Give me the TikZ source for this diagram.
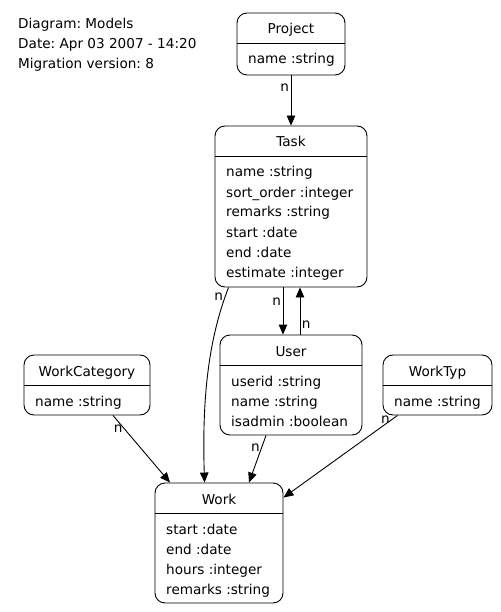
\documentclass[tikz,border=0pt]{standalone}
\usepackage{fontspec}
\setmainfont{DejaVu Sans}
\usepackage{tikz}
\usetikzlibrary{arrows.meta, fit}
\frenchspacing

\newcommand{\dfont}{\fontsize{13.6}{16}\selectfont}
\tikzset{
  classbox/.style={draw, rounded corners=10pt, inner sep=0pt, line width=0.9pt},
  txt/.style={inner sep=0pt},
  rel/.style={line width=0.9pt, -{Triangle[length=10pt, width=8.5pt]}},
  card/.style={inner sep=1.5pt}
}

% name, left, top, right, bottom, title, attributes
\newcommand{\umlclass}[7]{%
  \node[classbox, fit={(#2,#3) (#4,#5)}] (#1) {};
  \draw[line width=0.9pt] (#2,#3+30) -- (#4,#3+30);
  \node[txt, anchor=base] (#1-title) at ({(#2+#4)/2},#3+21) {#6};
  \foreach \attr [count=\i] in {#7} {
    \node[txt, anchor=base west] (#1-\i) at (#2+11,#3+31+20*\i) {\attr};
  }
}

\begin{document}
\begin{tikzpicture}[x=1pt, y=-1pt, every node/.append style={font=\dfont}]
  \useasboundingbox (0,0) rectangle (500,612);

  \node[txt, anchor=base west] (diagram) at (18,29) {Diagram: Models};
  \node[txt, anchor=base west] (date) at (18,49) {Date: Apr 03 2007 - 14:20};
  \node[txt, anchor=base west] (migration) at (18,69) {Migration version: 8};

  \umlclass{project}{237}{13}{345}{75}{Project}{name :string}
  \umlclass{task}{215}{126}{367}{287}{Task}{name :string, sort\_order :integer, remarks :string, start :date, end :date, estimate :integer}
  \umlclass{user}{220}{335}{362}{435}{User}{userid :string, name :string, isadmin :boolean}
  \umlclass{workcategory}{24}{355}{150}{415}{WorkCategory}{name :string}
  \umlclass{worktyp}{383}{355}{492}{415}{WorkTyp}{name :string}
  \umlclass{work}{155}{483}{283}{603}{Work}{start :date, end :date, hours :integer, remarks :string}

  \draw[rel] (project.south) -- node[card, pos=0.25, left] (n1) {n} (task.north);
  \draw[rel] ([xshift=-8pt]task.south) -- node[card, pos=0.3, left] (n2) {n} ([xshift=-8pt]user.north);
  \draw[rel] ([xshift=9pt]user.north) -- node[card, pos=0.2, right] (n3) {n} ([xshift=9pt]task.south);
  \draw[rel] ([xshift=14pt]task.south west) .. controls (208,340) and (202,400) .. node[card, pos=0.06, left] (n4) {n} ([xshift=50pt]work.north west);
  \draw[rel] ([xshift=-25pt]user.south) -- node[card, pos=0.25, left] (n5) {n} ([xshift=30pt]work.north);
  \draw[rel] ([xshift=26pt]workcategory.south) -- node[card, pos=0.2, left] (n6) {n} ([xshift=-49pt]work.north);
  \draw[rel] ([xshift=-40pt]worktyp.south) -- node[card, pos=0.05, left] (n7) {n} ([yshift=-15pt]work.north east);
\end{tikzpicture}
\end{document}
